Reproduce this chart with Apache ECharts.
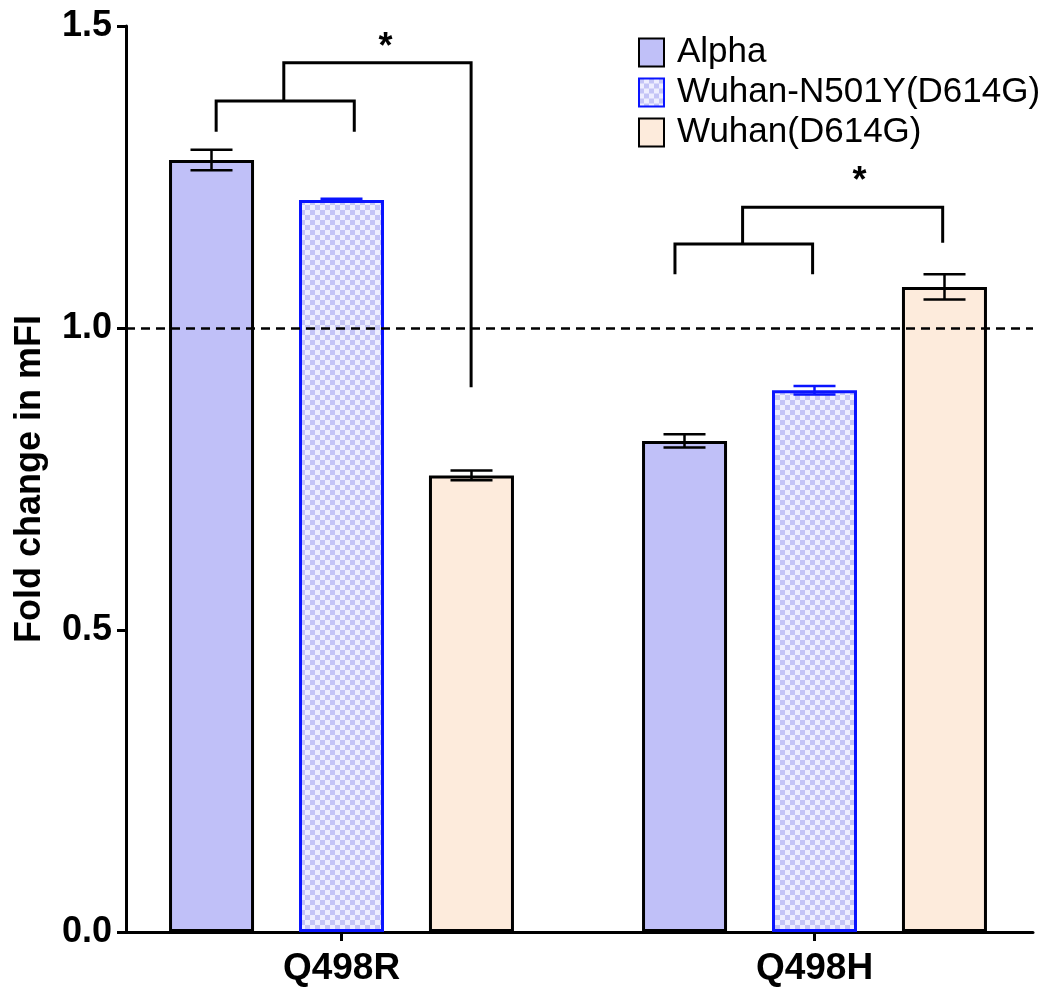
<!DOCTYPE html>
<html><head><meta charset="utf-8">
<script src="https://cdn.jsdelivr.net/npm/echarts@6/dist/echarts.min.js"></script>
<style>html,body{margin:0;padding:0;background:#fff}#c{width:1051px;height:987px}</style>
</head><body><div id="c"></div>
<script>
// ---- data ----
const categories = ['Q498R', 'Q498H'];
const seriesNames = ['Alpha', 'Wuhan-N501Y(D614G)', 'Wuhan(D614G)'];
const alphaValues = [1.278, 0.813];
const alphaErrors = [0.017, 0.011];
const n501yValues = [1.212, 0.897];
const n501yErrors = [0.002, 0.007];
const wuhanValues = [0.756, 1.068];
const wuhanErrors = [0.008, 0.021];
const yTicks = [0, 0.5, 1.0, 1.5];
const referenceLine = 1.0;
// significance brackets, x in category units (category i centred at i)
const bracketQ498RLower = [[-0.265, 1.325], [-0.265, 1.376], [0.027, 1.376], [0.027, 1.325]];
const bracketQ498RUpper = [[-0.122, 1.376], [-0.122, 1.439], [0.274, 1.439], [0.274, 0.902]];
const bracketQ498HLower = [[0.705, 1.089], [0.705, 1.139], [0.996, 1.139], [0.996, 1.089]];
const bracketQ498HUpper = [[0.848, 1.139], [0.848, 1.200], [1.271, 1.200], [1.271, 1.141]];
const asterisks = [[0.093, 1.464], [1.095, 1.242]];

// ---- style ----
const FONT = '"Liberation Sans", Arial, Helvetica, sans-serif';
const BAR_W = 85, BAR_GAP_PX = 45, BAR_STEP = BAR_W + BAR_GAP_PX, CAP = 42;
const ALPHA_FILL = '#c0c0f8', WUHAN_FILL = '#fdebdc', BLUE = '#0a14ff';

const pat = document.createElement('canvas');
pat.width = 10; pat.height = 10;
const pctx = pat.getContext('2d');
pctx.fillStyle = '#eeeeff'; pctx.fillRect(0, 0, 10, 10);
pctx.fillStyle = '#c4c4f6'; pctx.fillRect(0, 0, 5, 5); pctx.fillRect(5, 5, 5, 5);
const checker = { image: pat, repeat: 'repeat' };

const chart = echarts.init(document.getElementById('c'), null, { renderer: 'canvas' });

function barSeries(name, values, fill, border) {
  return {
    name, type: 'bar', xAxisIndex: 1, yAxisIndex: 1, data: values,
    barWidth: BAR_W, barGap: (BAR_GAP_PX / BAR_W * 100).toFixed(1) + '%',
    itemStyle: { color: fill, borderColor: border, borderWidth: 3 },
    silent: true, z: 3
  };
}
function errorSeries(values, errors, idx, color) {
  return {
    type: 'custom', xAxisIndex: 1, yAxisIndex: 1, z: 6, silent: true,
    data: values.map((v, i) => [i, v, errors[i]]),
    renderItem(params, api) {
      const i = api.value(0), v = api.value(1), e = api.value(2);
      const hi = api.coord([i, v + e]), lo = api.coord([i, v - e]);
      const x = hi[0] + (idx - 1) * BAR_STEP, h = CAP / 2;
      const st = { stroke: color, lineWidth: 2.5 };
      return { type: 'group', children: [
        { type: 'line', shape: { x1: x, y1: hi[1], x2: x, y2: lo[1] }, style: st },
        { type: 'line', shape: { x1: x - h, y1: hi[1], x2: x + h, y2: hi[1] }, style: st },
        { type: 'line', shape: { x1: x - h, y1: lo[1], x2: x + h, y2: lo[1] }, style: st }
      ]};
    }
  };
}
function bracket(pts) {
  return {
    type: 'line', xAxisIndex: 2, yAxisIndex: 1, data: pts, symbol: 'none', silent: true, z: 4,
    lineStyle: { color: '#000', width: 3, join: 'miter', cap: 'butt' }, animation: false
  };
}

chart.setOption({
  animation: false,
  backgroundColor: '#fff',
  grid: [
    { left: 126, right: 18, top: 26, bottom: 55 },
    { left: 105, width: 950, top: 26, bottom: 55 }
  ],
  legend: {
    data: seriesNames, orient: 'vertical', left: 638, top: 35, padding: 0,
    icon: 'rect', itemWidth: 25, itemHeight: 28, itemGap: 5, selectedMode: false,
    textStyle: { fontFamily: FONT, fontSize: 35, lineHeight: 28, color: '#000', padding: [0, 0, 0, 8] }
  },
  xAxis: [
    { type: 'value', gridIndex: 0, min: 0, max: 1, axisLine: { show: true, lineStyle: { color: '#000', width: 3 } },
      axisTick: { show: false }, axisLabel: { show: false }, splitLine: { show: false } },
    { type: 'category', gridIndex: 1, data: categories, axisLine: { show: false },
      axisTick: { show: true, alignWithLabel: true, length: 9, lineStyle: { color: '#000', width: 3 } },
      axisLabel: { fontFamily: FONT, fontSize: 37, fontWeight: 'bold', color: '#000', margin: 18 } },
    { type: 'value', gridIndex: 1, min: -0.5, max: 1.5, show: false }
  ],
  yAxis: [
    { type: 'value', gridIndex: 0, min: yTicks[0], max: yTicks[yTicks.length - 1], interval: 0.5,
      name: 'Fold change in mFI', nameLocation: 'middle', nameGap: 78,
      nameTextStyle: { fontFamily: FONT, fontSize: 36, fontWeight: 'bold', color: '#000' },
      axisLine: { show: true, lineStyle: { color: '#000', width: 3 } },
      axisTick: { show: true, length: 9, lineStyle: { color: '#000', width: 3 } },
      axisLabel: { fontFamily: FONT, fontSize: 36, fontWeight: 'bold', color: '#000', margin: 14,
        formatter: v => v.toFixed(1) },
      splitLine: { show: false } },
    { type: 'value', gridIndex: 1, min: yTicks[0], max: yTicks[yTicks.length - 1], show: false }
  ],
  series: [
    { type: 'line', xAxisIndex: 0, yAxisIndex: 0, data: [], silent: true,
      markLine: { symbol: 'none', silent: true, label: { show: false },
        lineStyle: { type: [9, 6], color: '#000', width: 2.5 }, data: [{ yAxis: referenceLine }] } },
    barSeries(seriesNames[0], alphaValues, ALPHA_FILL, '#000'),
    barSeries(seriesNames[1], n501yValues, checker, BLUE),
    barSeries(seriesNames[2], wuhanValues, WUHAN_FILL, '#000'),
    errorSeries(alphaValues, alphaErrors, 0, '#000'),
    errorSeries(n501yValues, n501yErrors, 1, BLUE),
    errorSeries(wuhanValues, wuhanErrors, 2, '#000'),
    bracket(bracketQ498RLower), bracket(bracketQ498RUpper),
    bracket(bracketQ498HLower), bracket(bracketQ498HUpper),
    { type: 'custom', xAxisIndex: 2, yAxisIndex: 1, silent: true, z: 7, data: asterisks,
      renderItem(params, api) {
        const p = api.coord([api.value(0), api.value(1)]);
        return { type: 'text', x: p[0], y: p[1],
          style: { text: '*', font: 'bold 36px ' + FONT, fill: '#000', align: 'center', verticalAlign: 'middle' } };
      } }
  ]
});
</script></body></html>
